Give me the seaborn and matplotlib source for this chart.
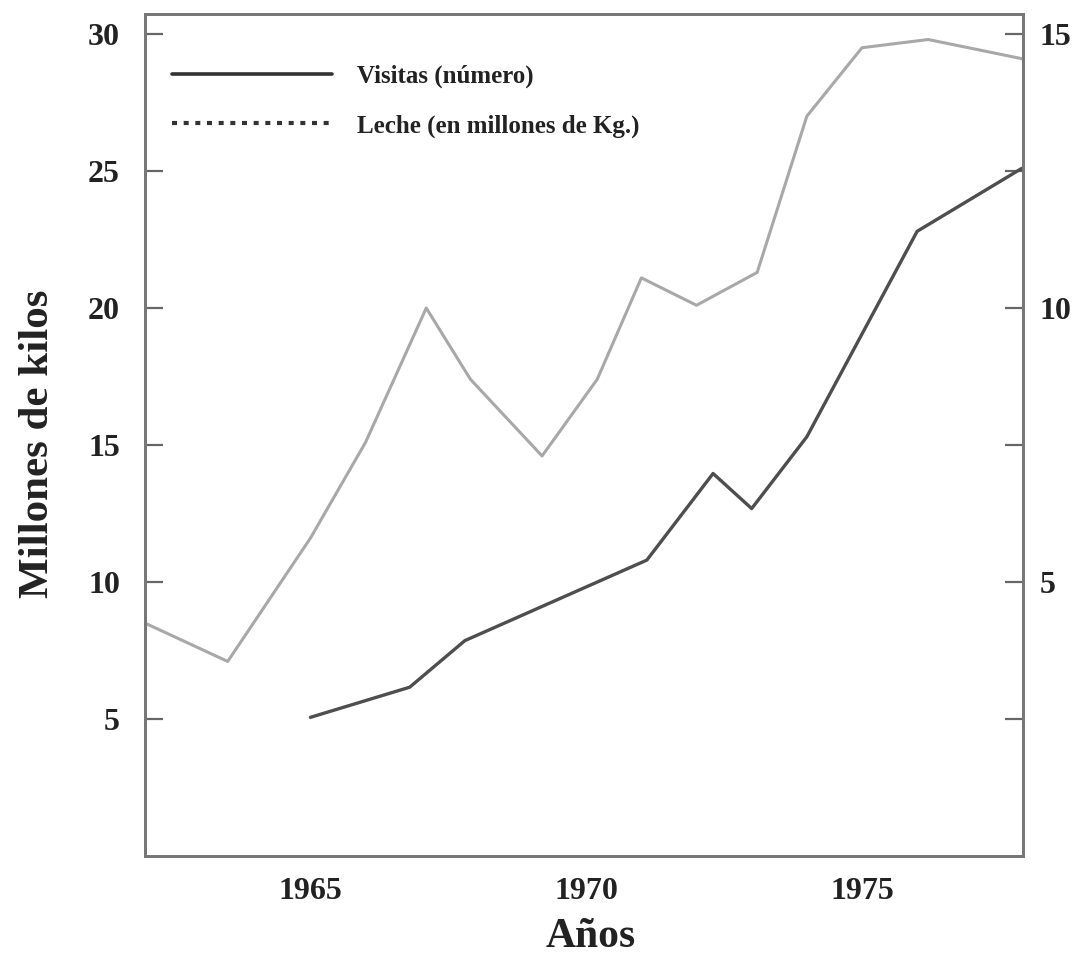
import matplotlib
matplotlib.use("Agg")
import matplotlib.pyplot as plt
from matplotlib.lines import Line2D
import seaborn as sns
import pandas as pd

# Data
leche_years = [1962.0, 1963.5, 1965.0, 1966.0, 1967.1, 1967.9, 1969.2, 1970.2,
               1971.0, 1972.0, 1973.1, 1974.0, 1975.0, 1976.2, 1977.9]
leche_values = [8.5, 7.1, 11.6, 15.1, 20.0, 17.4, 14.6, 17.4,
                21.1, 20.1, 21.3, 27.0, 29.5, 29.8, 29.1]

visitas_years = [1965.0, 1966.8, 1967.8, 1971.1, 1972.3, 1973.0, 1974.0, 1976.0, 1977.9]
visitas_values = [2.53, 3.08, 3.93, 5.4, 6.98, 6.34, 7.65, 11.4, 12.55]

x_ticks = [1965, 1970, 1975]
left_ticks = [5, 10, 15, 20, 25, 30]
right_ticks = [2.5, 5, 7.5, 10, 12.5, 15]
right_labels = ["", "5", "", "10", "", "15"]

legend_labels = ["Visitas (número)", "Leche (en millones de Kg.)"]
xlabel = "Años"
ylabel = "Millones de kilos"

sns.set_theme(style="white")
plt.rcParams["font.family"] = ["Liberation Serif", "DejaVu Serif"]

fig = plt.figure(figsize=(10.77, 9.55), dpi=100)
ax = fig.add_axes([0.1346, 0.1037, 0.8153, 0.8816])
ax2 = ax.twinx()

df_l = pd.DataFrame({"year": leche_years, "val": leche_values})
df_v = pd.DataFrame({"year": visitas_years, "val": visitas_values})

sns.lineplot(data=df_l, x="year", y="val", ax=ax, sort=False, estimator=None,
             color="#a8a8a8", linewidth=2.2)
sns.lineplot(data=df_v, x="year", y="val", ax=ax2, sort=False, estimator=None,
             color="#4e4e4e", linewidth=2.4)

ax.set_xlim(1962.0, 1977.92)
ax.set_ylim(0, 30.73)
ax2.set_ylim(0, 30.73 / 2)

ax.set_xticks(x_ticks)
ax.set_xticklabels([str(t) for t in x_ticks])
ax.set_yticks(left_ticks)
ax.set_yticklabels([str(t) for t in left_ticks])
ax2.set_yticks(right_ticks)
ax2.set_yticklabels(right_labels)

for lab in ax.get_xticklabels() + ax.get_yticklabels() + ax2.get_yticklabels():
    lab.set_fontsize(23)
    lab.set_fontweight("bold")
    lab.set_color("#222222")

ax.tick_params(axis="x", direction="in", length=13, width=1.6, color="#666666", pad=15)
ax.tick_params(axis="y", direction="in", length=13, width=1.6, color="#666666", pad=18)
ax2.tick_params(axis="y", direction="in", length=13, width=1.6, color="#666666", pad=12)

for a in (ax, ax2):
    for s in a.spines.values():
        s.set_color("#777777")
        s.set_linewidth(2.0)

ax.set_xlabel(xlabel, fontsize=30, fontweight="bold", color="#222222")
ax.xaxis.set_label_coords(0.508, -0.074)
ax.set_ylabel(ylabel, fontsize=31, fontweight="bold", color="#222222")
ax.yaxis.set_label_coords(-0.1, 0.49)
ax2.set_ylabel("")

handles = [Line2D([], [], color="#333333", linewidth=2.6, linestyle="-"),
           Line2D([], [], color="#333333", linewidth=3.0, linestyle=(0, (1.2, 1.6)))]
leg = ax.legend(handles, legend_labels, loc="upper left", bbox_to_anchor=(0.031, 0.940),
                frameon=False, borderaxespad=0, borderpad=0, handlelength=6.4,
                handletextpad=1.0, labelspacing=1.05,
                prop={"family": "Liberation Serif", "weight": "bold", "size": 18})
for t in leg.get_texts():
    t.set_color("#222222")

fig.savefig("out.png", dpi=100, facecolor="white")
